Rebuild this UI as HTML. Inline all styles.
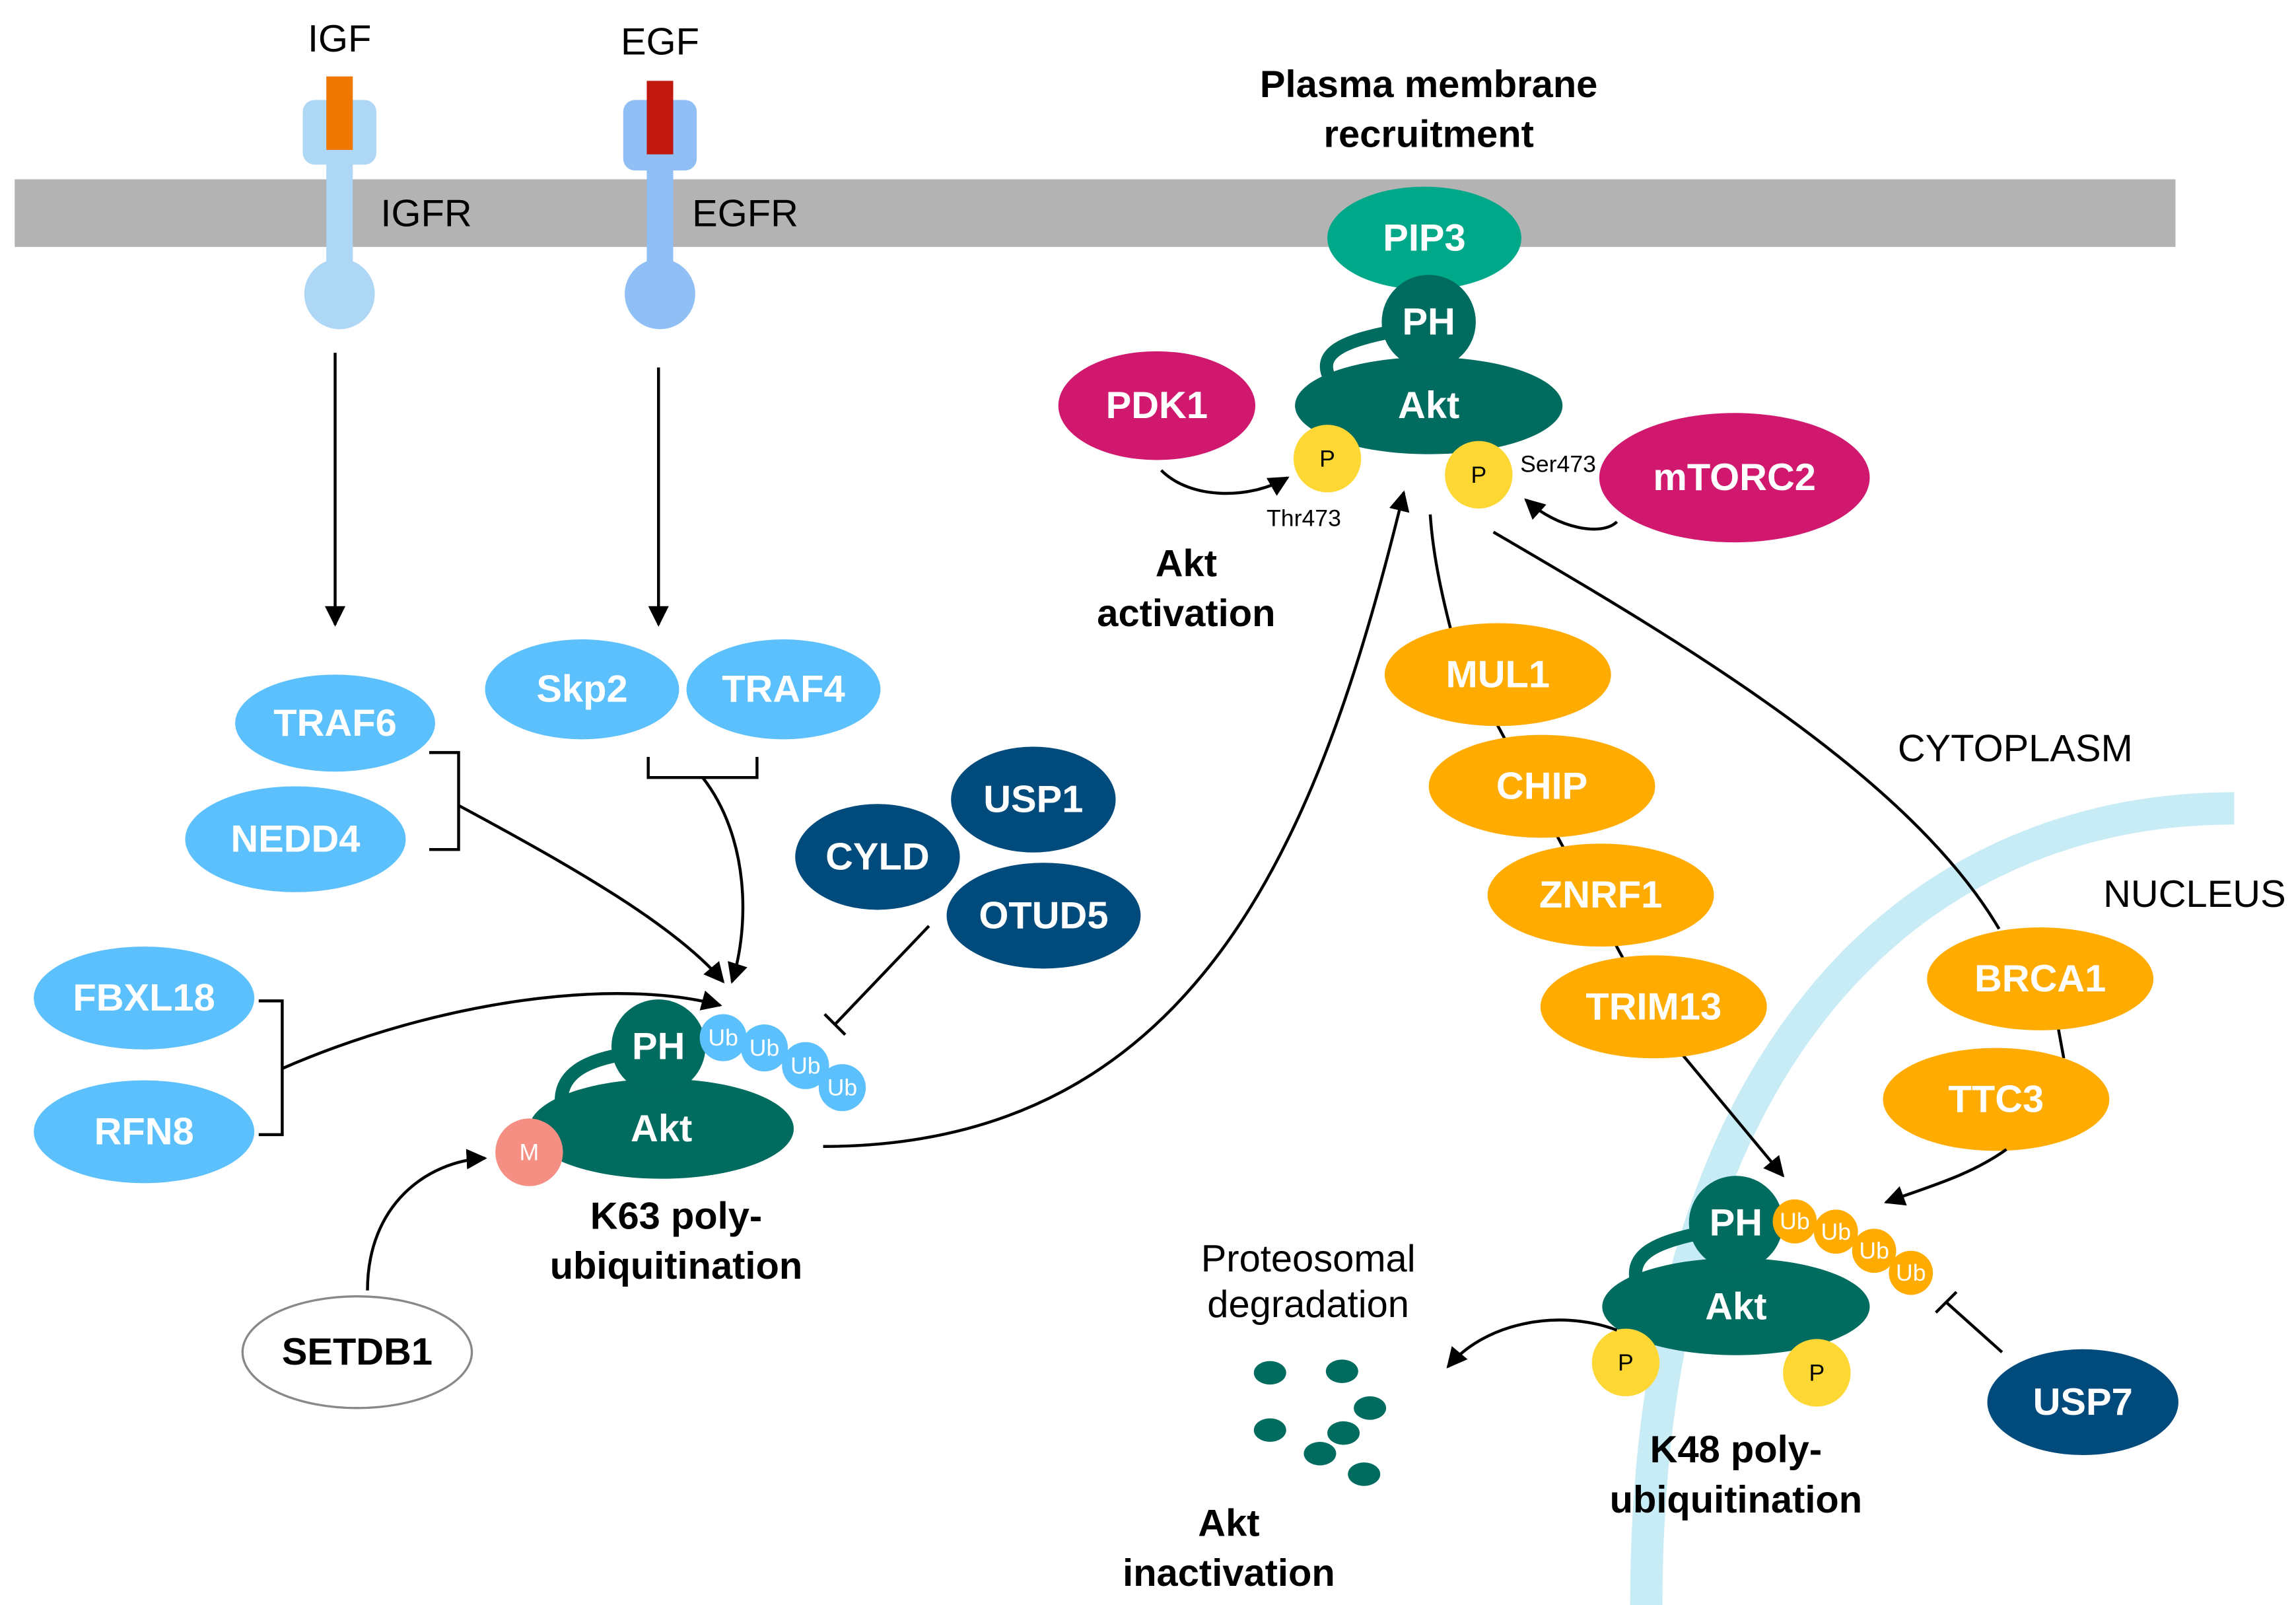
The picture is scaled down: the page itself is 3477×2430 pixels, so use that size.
<!DOCTYPE html>
<html><head><meta charset="utf-8"><style>
html,body{margin:0;padding:0;background:#fff}
svg{display:block}
text{font-family:"Liberation Sans",sans-serif}
.w{fill:#fff;font-weight:bold;font-size:26px;text-anchor:middle;dominant-baseline:central}
.b{fill:#000;font-weight:bold;font-size:26px;text-anchor:middle}
.n{fill:#000;font-size:26px;text-anchor:middle}
.ub{fill:#fff;font-size:16px;text-anchor:middle;dominant-baseline:central}
.ln{fill:none;stroke:#000;stroke-width:2}
.lb{fill:#5bc0fb}.nv{fill:#004a7c}.tl{fill:#006b5f}.or{fill:#ffab00}.mg{fill:#d0186e}.yl{fill:#fdd835}
</style></head><body>
<svg width="3477" height="2430" viewBox="0 0 1562 1092" preserveAspectRatio="none" xmlns="http://www.w3.org/2000/svg">
<defs><marker id="a" viewBox="0 0 10 10" refX="9" refY="5" markerWidth="7" markerHeight="7" orient="auto"><path d="M0,0L10,5L0,10z" fill="#000"/></marker></defs>
<!-- nucleus arc -->
<path d="M1520,550 C1300,550 1120,720 1120,1092" fill="none" stroke="#c8ecf5" stroke-width="22"/>
<!-- membrane -->
<rect x="10" y="122" width="1470" height="46" fill="#b3b3b3"/>
<!-- IGFR -->
<rect x="206" y="68" width="50" height="44" rx="8" fill="#aed6f5"/>
<rect x="222" y="108" width="18" height="80" fill="#aed6f5"/>
<circle cx="231" cy="200" r="24" fill="#aed6f5"/>
<rect x="222" y="52" width="18" height="50" fill="#f07800"/>
<!-- EGFR -->
<rect x="424" y="68" width="50" height="48" rx="8" fill="#90bff5"/>
<rect x="440" y="108" width="18" height="80" fill="#90bff5"/>
<circle cx="449" cy="200" r="24" fill="#90bff5"/>
<rect x="440" y="55" width="18" height="50" fill="#c0170f"/>
<text class="n" x="231" y="35">IGF</text><text class="n" x="449" y="37">EGF</text>
<text class="n" x="290" y="154">IGFR</text><text class="n" x="507" y="154">EGFR</text>
<line class="ln" x1="228" y1="240" x2="228" y2="425" marker-end="url(#a)"/>
<line class="ln" x1="448" y1="250" x2="448" y2="425" marker-end="url(#a)"/>
<!-- left ligases -->
<ellipse class="lb" cx="228" cy="492" rx="68" ry="33"/><text class="w" x="228" y="492">TRAF6</text>
<ellipse class="lb" cx="201" cy="571" rx="75" ry="36"/><text class="w" x="201" y="571">NEDD4</text>
<ellipse class="lb" cx="396" cy="469" rx="66" ry="34"/><text class="w" x="396" y="469">Skp2</text>
<ellipse class="lb" cx="533" cy="469" rx="66" ry="34"/><text class="w" x="533" y="469">TRAF4</text>
<ellipse class="lb" cx="98" cy="679" rx="75" ry="35"/><text class="w" x="98" y="679">FBXL18</text>
<ellipse class="lb" cx="98" cy="770" rx="75" ry="35"/><text class="w" x="98" y="770">RFN8</text>
<ellipse class="nv" cx="703" cy="544" rx="56" ry="36"/><text class="w" x="703" y="544">USP1</text>
<ellipse class="nv" cx="710" cy="623" rx="66" ry="36"/><text class="w" x="710" y="623">OTUD5</text>
<ellipse class="nv" cx="597" cy="583" rx="56" ry="36"/><text class="w" x="597" y="583">CYLD</text>
<path class="ln" d="M292,512H312V578H292"/>
<path class="ln" d="M312,548 C390,590 460,630 492,668" marker-end="url(#a)"/>
<path class="ln" d="M441,515V529H515V515"/>
<path class="ln" d="M478,529 C510,570 510,630 498,668" marker-end="url(#a)"/>
<path class="ln" d="M176,681H192V772H176"/>
<path class="ln" d="M192,727 C300,680 420,665 490,684" marker-end="url(#a)"/>
<path class="ln" d="M632,630L568,697M561,690L575,704"/>
<!-- left Akt -->
<path d="M382,752 C380,730 400,722 420,718" fill="none" stroke="#006b5f" stroke-width="9"/>
<ellipse class="tl" cx="450" cy="768" rx="90" ry="34"/><text class="w" x="450" y="768">Akt</text>
<circle class="tl" cx="448" cy="712" r="32"/><text class="w" x="448" y="712">PH</text>
<circle class="lb" cx="573" cy="740" r="16"/><text class="ub" x="573" y="740">Ub</text>
<circle class="lb" cx="548" cy="725" r="16"/><text class="ub" x="548" y="725">Ub</text>
<circle class="lb" cx="520" cy="713" r="16"/><text class="ub" x="520" y="713">Ub</text>
<circle class="lb" cx="492" cy="706" r="16"/><text class="ub" x="492" y="706">Ub</text>
<circle cx="360" cy="784" r="23" fill="#f58f84"/><text class="ub" x="360" y="784">M</text>
<text class="b" x="460" y="836">K63 poly-</text><text class="b" x="460" y="870">ubiquitination</text>
<ellipse cx="243" cy="920" rx="78" ry="38" fill="#fff" stroke="#888" stroke-width="1.5"/><text class="w" x="243" y="920" style="fill:#000">SETDB1</text>
<path class="ln" d="M250,878 C250,820 290,790 330,788" marker-end="url(#a)"/>
<path class="ln" d="M560,780 C820,780 900,560 955,335" marker-end="url(#a)"/>
<!-- top Akt -->
<ellipse cx="969" cy="162" rx="66" ry="35" fill="#00a88a"/><text class="w" x="969" y="162">PIP3</text>
<path d="M905,258 C895,240 915,232 945,226" fill="none" stroke="#006b5f" stroke-width="9"/>
<ellipse class="tl" cx="972" cy="276" rx="91" ry="33"/><text class="w" x="972" y="276">Akt</text>
<circle class="tl" cx="972" cy="219" r="32"/><text class="w" x="972" y="219">PH</text>
<circle class="yl" cx="903" cy="312" r="23"/><text class="ub" x="903" y="312" style="fill:#000">P</text>
<circle class="yl" cx="1006" cy="323" r="23"/><text class="ub" x="1006" y="323" style="fill:#000">P</text>
<ellipse class="mg" cx="787" cy="276" rx="67" ry="37"/><text class="w" x="787" y="276">PDK1</text>
<ellipse class="mg" cx="1180" cy="325" rx="92" ry="44"/><text class="w" x="1180" y="325">mTORC2</text>
<text x="887" y="358" style="font-size:16px;text-anchor:middle">Thr473</text>
<text x="1060" y="321" style="font-size:16px;text-anchor:middle">Ser473</text>
<path class="ln" d="M790,320 C810,340 850,340 876,325" marker-end="url(#a)"/>
<path class="ln" d="M1100,355 C1090,365 1060,360 1038,340" marker-end="url(#a)"/>
<text class="b" x="972" y="66">Plasma membrane</text><text class="b" x="972" y="100">recruitment</text>
<text class="b" x="807" y="392">Akt</text><text class="b" x="807" y="426">activation</text>
<!-- orange -->
<path class="ln" d="M973,350 C975,380 982,410 990,440 L1130,700 L1213,800" marker-end="url(#a)"/>
<path class="ln" d="M1016,362 C1150,440 1300,530 1360,632"/>
<ellipse class="or" cx="1019" cy="459" rx="77" ry="35"/><text class="w" x="1019" y="459">MUL1</text>
<ellipse class="or" cx="1049" cy="535" rx="77" ry="35"/><text class="w" x="1049" y="535">CHIP</text>
<ellipse class="or" cx="1089" cy="609" rx="77" ry="35"/><text class="w" x="1089" y="609">ZNRF1</text>
<ellipse class="or" cx="1125" cy="685" rx="77" ry="35"/><text class="w" x="1125" y="685">TRIM13</text>
<path class="ln" d="M1400,698 L1404,720"/>
<ellipse class="or" cx="1388" cy="666" rx="77" ry="35"/><text class="w" x="1388" y="666">BRCA1</text>
<ellipse class="or" cx="1358" cy="748" rx="77" ry="35"/><text class="w" x="1358" y="748">TTC3</text>
<path class="ln" d="M1365,782 C1340,800 1310,808 1283,818" marker-end="url(#a)"/>
<text class="n" x="1371" y="518">CYTOPLASM</text><text class="n" x="1493" y="617">NUCLEUS</text>
<!-- right Akt -->
<path d="M1113,870 C1110,852 1130,845 1152,840" fill="none" stroke="#006b5f" stroke-width="9"/>
<ellipse class="tl" cx="1181" cy="889" rx="91" ry="33"/><text class="w" x="1181" y="889">Akt</text>
<circle class="tl" cx="1181" cy="832" r="32"/><text class="w" x="1181" y="832">PH</text>
<circle class="or" cx="1300" cy="866" r="15"/><text class="ub" x="1300" y="866">Ub</text>
<circle class="or" cx="1275" cy="851" r="15"/><text class="ub" x="1275" y="851">Ub</text>
<circle class="or" cx="1249" cy="838" r="15"/><text class="ub" x="1249" y="838">Ub</text>
<circle class="or" cx="1221" cy="831" r="15"/><text class="ub" x="1221" y="831">Ub</text>
<circle class="yl" cx="1106" cy="927" r="23"/><text class="ub" x="1106" y="927" style="fill:#000">P</text>
<circle class="yl" cx="1236" cy="934" r="23"/><text class="ub" x="1236" y="934" style="fill:#000">P</text>
<ellipse class="nv" cx="1417" cy="954" rx="65" ry="36"/><text class="w" x="1417" y="954">USP7</text>
<path class="ln" d="M1362,920L1324,886M1317,893L1331,879"/>
<text class="b" x="1181" y="995">K48 poly-</text><text class="b" x="1181" y="1029">ubiquitination</text>
<text class="n" x="890" y="865">Proteosomal</text><text class="n" x="890" y="896">degradation</text>
<path class="ln" d="M1100,905 C1060,890 1010,900 985,930" marker-end="url(#a)"/>
<g class="tl">
<ellipse cx="864" cy="934" rx="11" ry="8"/><ellipse cx="913" cy="933" rx="11" ry="8"/><ellipse cx="932" cy="958" rx="11" ry="8"/>
<ellipse cx="864" cy="973" rx="11" ry="8"/><ellipse cx="914" cy="975" rx="11" ry="8"/><ellipse cx="898" cy="989" rx="11" ry="8"/><ellipse cx="928" cy="1003" rx="11" ry="8"/>
</g>
<text class="b" x="836" y="1045">Akt</text><text class="b" x="836" y="1079">inactivation</text>
</svg>
</body></html>
